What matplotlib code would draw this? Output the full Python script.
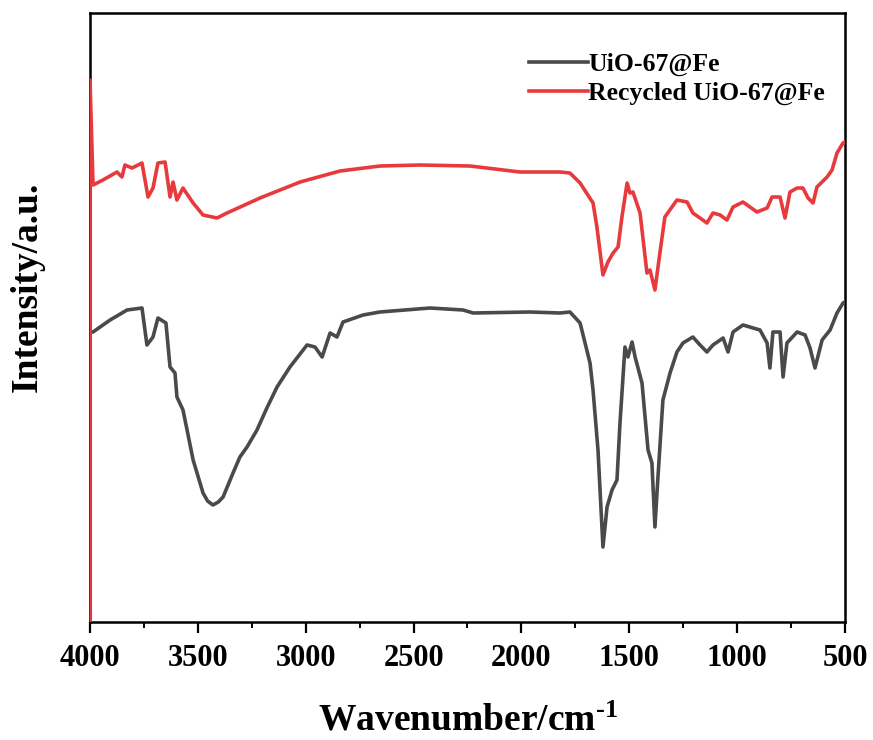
import matplotlib
matplotlib.use("Agg")
import matplotlib.pyplot as plt
from matplotlib.ticker import MultipleLocator

plt.rcParams['font.family'] = ['Liberation Serif', 'DejaVu Serif']
plt.rcParams['font.weight'] = 'bold'
plt.rcParams['mathtext.fontset'] = 'custom'
plt.rcParams['mathtext.rm'] = 'Liberation Serif:bold'
plt.rcParams['mathtext.bf'] = 'Liberation Serif:bold'
plt.rcParams['mathtext.it'] = 'Liberation Serif:bold'

# UiO-67@Fe spectrum (wavenumber, intensity a.u.)
wn_fresh = [4000, 3986, 3907, 3828, 3759, 3736, 3708, 3685, 3648, 3629, 3606, 3597, 3569,
            3550, 3522, 3476, 3455, 3430, 3405, 3383, 3337, 3305, 3272, 3226, 3180, 3133, 3073,
            2994, 2957, 2924, 2887, 2855, 2827, 2734, 2656, 2424, 2271, 2224, 1960, 1821, 1775,
            1728, 1682, 1668, 1645, 1622, 1603, 1580, 1557, 1543, 1520, 1506, 1487, 1473, 1441,
            1413, 1395, 1381, 1367, 1344, 1311, 1279, 1251, 1205, 1172, 1140, 1112, 1065,
            1042, 1019, 973, 926, 894, 861, 848, 834, 801, 787, 769, 722, 685, 662, 639,
            606, 569, 537, 509, 500]
int_fresh = [290, 290, 302, 312, 314, 277, 285, 304, 299, 255, 249, 225, 212,
             192, 162, 129, 121, 117, 120, 125, 149, 165, 175, 192, 214, 235, 255,
             277, 275, 265, 289, 285, 300, 307, 310, 314, 312, 309, 310, 309, 310,
             299, 259, 232, 172, 75, 115, 132, 142, 199, 275, 265, 280, 265, 239,
             172, 159, 95, 145, 222, 249, 270, 279, 285, 277, 270, 277, 284,
             270, 290, 297, 294, 292, 279, 254, 290, 290, 245, 279, 290, 287, 274, 254,
             282, 292, 309, 319, 320]

# Recycled UiO-67@Fe spectrum
wn_recycled = [4000, 4000, 3986, 3940, 3875, 3852, 3838, 3805, 3759, 3731, 3708, 3685, 3652,
               3629, 3615, 3597, 3569, 3522, 3476, 3411, 3365, 3212, 3026, 2841, 2656, 2470,
               2238, 2007, 1821, 1775, 1728, 1668, 1650, 1622, 1599, 1575, 1552, 1534, 1510,
               1497, 1483, 1450, 1418, 1404, 1381, 1358, 1335, 1302, 1279, 1232, 1205, 1172,
               1140, 1112, 1079, 1047, 1019, 973, 908, 861, 838, 801, 778, 755, 722, 695, 671,
               648, 630, 583, 560, 537, 509, 500]
int_recycled = [-10, 542, 437, 442, 450, 445, 457, 454, 459, 425, 434, 459, 460,
                425, 440, 422, 434, 419, 407, 404, 409, 424, 440, 451, 456, 457,
                456, 450, 450, 449, 439, 419, 395, 347, 360, 369, 375, 405, 439,
                429, 430, 409, 349, 352, 332, 369, 405, 415, 422, 420, 409, 404,
                399, 409, 407, 402, 415, 420, 410, 414, 425, 425, 404, 430, 434, 434, 424,
                419, 435, 445, 452, 469, 479, 480]

labels = ["UiO-67@Fe", "Recycled UiO-67@Fe"]
xticks = [4000, 3500, 3000, 2500, 2000, 1500, 1000, 500]

fig = plt.figure(figsize=(8.73, 7.40), dpi=100)
ax = fig.add_axes([0.1031, 0.1595, 0.8648, 0.8229])

ax.plot(wn_fresh, int_fresh, color='#4a4a4a', lw=2.6, label=labels[0], solid_joinstyle='round')
ax.plot(wn_recycled, int_recycled, color='#e83a3c', lw=2.6, label=labels[1], solid_joinstyle='round')

ax.set_xlim(4000, 500)
ax.set_ylim(0, 609)
ax.set_xticks(xticks)
ax.xaxis.set_minor_locator(MultipleLocator(250))
ax.set_yticks([])

for s in ax.spines.values():
    s.set_linewidth(1.8)
    s.set_zorder(0.5)

ax.tick_params(axis='x', which='major', direction='out', length=8, width=1.6,
               labelsize=22, pad=8)
ax.tick_params(axis='x', which='minor', direction='out', length=4.5, width=1.4)
for lab in ax.get_xticklabels():
    lab.set_fontweight('bold')

ax.set_xlabel("Wavenumber/cm$^{\\text{-1}}$", fontsize=27, fontweight='bold', labelpad=22)
ax.set_ylabel("Intensity/a.u.", fontsize=27, fontweight='bold')
ax.yaxis.set_label_coords(-0.06, 0.55)

leg = ax.legend(loc='upper left', bbox_to_anchor=(0.5815, 0.935), frameon=False,
                prop={'family': 'Liberation Serif', 'weight': 'bold', 'size': 18.5},
                handlelength=2.3, handletextpad=0.0, labelspacing=0.25,
                borderaxespad=0.0, borderpad=0.0)

fig.savefig("out.png", dpi=100)
